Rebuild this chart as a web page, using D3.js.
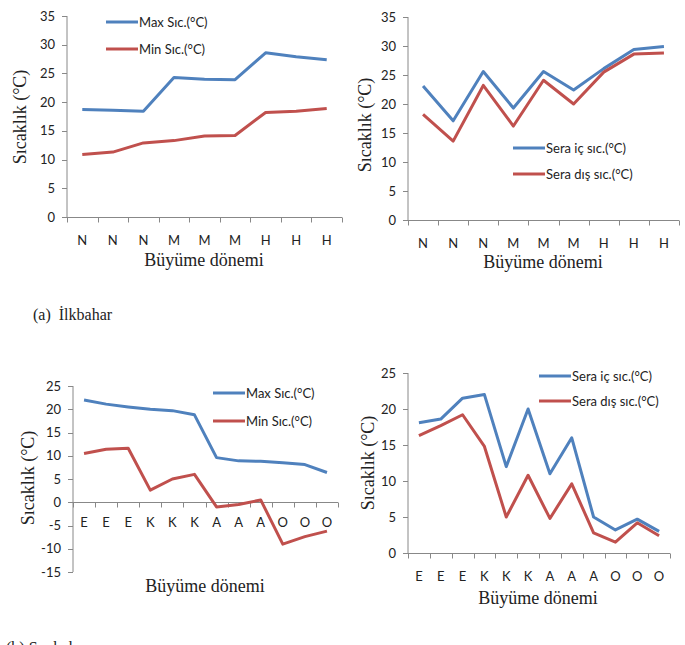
<!doctype html>
<html lang="tr">
  <head>
    <meta charset="utf-8">
    <title>Sıcaklık - Büyüme dönemi</title>
    <style>
      body{ margin: 0; background: #fff; }
      .tick-lbl{ font-family: Lato, "Open Sans", sans-serif; font-size: 13px; fill: #222; }
      .legend-lbl{ font-family: Lato, "Open Sans", sans-serif; font-size: 13px; fill: #222; }
      .title{ font-family: "Liberation Serif", "DejaVu Serif", serif; font-size: 18px; fill: #222; }
      .caption{ font-family: "Liberation Serif", "DejaVu Serif", serif; font-size: 16px; fill: #222; }
    </style>
  </head>
  <body>
    <svg id="fig" width="685" height="645"></svg>
    <script src="https://d3js.org/d3.v7.min.js"></script>
    <script>

      //spring categories and values
      var springCats = ["N","N","N","M","M","M","H","H","H"];
      var springMax = [18.7, 18.6, 18.4, 24.3, 24.0, 23.9, 28.6, 27.9, 27.4];
      var springMin = [10.9, 11.3, 12.9, 13.3, 14.1, 14.2, 18.2, 18.4, 18.9];
      var springIn = [23.1, 17.1, 25.6, 19.3, 25.6, 22.4, 26.1, 29.4, 29.9];
      var springOut = [18.2, 13.6, 23.2, 16.2, 24.1, 20.0, 25.5, 28.6, 28.8];

      //autumn categories and values
      var autumnCats = ["E","E","E","K","K","K","A","A","A","O","O","O"];
      var autumnMax = [22.0, 21.1, 20.5, 20.0, 19.7, 18.8, 9.6, 8.9, 8.8, 8.5, 8.1, 6.4];
      var autumnMin = [10.5, 11.4, 11.6, 2.6, 5.0, 6.0, -1.0, -0.5, 0.5, -9.0, -7.4, -6.2];
      var autumnIn = [18.1, 18.6, 21.5, 22.0, 12.0, 20.0, 11.0, 16.0, 5.0, 3.2, 4.7, 3.0];
      var autumnOut = [16.3, 17.7, 19.2, 14.8, 5.0, 10.8, 4.8, 9.6, 2.8, 1.5, 4.2, 2.4];

      var yTicksSpring = [0, 5, 10, 15, 20, 25, 30, 35];
      var yTicksAutumn = [-15, -10, -5, 0, 5, 10, 15, 20, 25];
      var yTicksAutumn2 = [0, 5, 10, 15, 20, 25];

      var blue = "#4f81bd";
      var red = "#c0504d";
      var axisColor = "#888";

      var svg = d3.select("#fig");

      var drawChart = function(c){
        var g = svg.append("g");

        var x = d3.scaleBand()
          .domain(d3.range(c.cats.length))
          .range([c.left, c.right]);

        var y = d3.scaleLinear()
          .domain(c.yDomain)
          .range([c.bottom, c.top]);

        //y axis line + ticks
        g.append("line")
          .attr("x1", c.left).attr("x2", c.left)
          .attr("y1", y(c.yDomain[0])).attr("y2", y(c.yDomain[1]))
          .attr("stroke", axisColor);

        g.selectAll(".ytick").data(c.yTicks).enter()
          .append("line")
          .attr("x1", c.left - 5).attr("x2", c.left)
          .attr("y1", function(d){ return Math.round(y(d)) + 0.5; })
          .attr("y2", function(d){ return Math.round(y(d)) + 0.5; })
          .attr("stroke", axisColor);

        g.selectAll(".ylbl").data(c.yTicks).enter()
          .append("text")
          .attr("class", "tick-lbl")
          .attr("x", c.left - 12)
          .attr("y", function(d){ return y(d); })
          .attr("dy", "0.35em")
          .attr("text-anchor", "end")
          .text(function(d){ return d; });

        //x axis at zero
        var y0 = Math.round(y(0)) + 0.5;
        g.append("line")
          .attr("x1", c.left).attr("x2", c.right)
          .attr("y1", y0).attr("y2", y0)
          .attr("stroke", axisColor);

        var bounds = d3.range(c.cats.length + 1).map(function(i){
          return i < c.cats.length ? x(i) : c.right;
        });
        g.selectAll(".xtick").data(bounds).enter()
          .append("line")
          .attr("x1", function(d){ return Math.round(d) + 0.5; })
          .attr("x2", function(d){ return Math.round(d) + 0.5; })
          .attr("y1", y0).attr("y2", y0 + 5)
          .attr("stroke", axisColor);

        g.selectAll(".xlbl").data(c.cats).enter()
          .append("text")
          .attr("class", "tick-lbl")
          .attr("x", function(d, i){ return x(i) + x.bandwidth() / 2; })
          .attr("y", c.xLabelY)
          .attr("text-anchor", "middle")
          .text(function(d){ return d; });

        //lines
        var line = d3.line()
          .x(function(d, i){ return x(i) + x.bandwidth() / 2; })
          .y(function(d){ return y(d); });

        c.series.forEach(function(s){
          g.append("path")
            .datum(s.values)
            .attr("fill", "none")
            .attr("stroke", s.color)
            .attr("stroke-width", 3)
            .attr("stroke-linejoin", "round")
            .attr("d", line);
        });

        //legend
        c.series.forEach(function(s, i){
          var ly = c.legendY + i * c.legendGap;
          g.append("line")
            .attr("x1", c.legendX).attr("x2", c.legendX + 32)
            .attr("y1", ly).attr("y2", ly)
            .attr("stroke", s.color)
            .attr("stroke-width", 3);
          g.append("text")
            .attr("class", "legend-lbl")
            .attr("x", c.legendX + 33)
            .attr("y", ly)
            .attr("dy", "0.35em")
            .text(s.name);
        });

        //axis titles
        g.append("text")
          .attr("class", "title")
          .attr("x", c.xTitleX)
          .attr("y", c.xTitleY)
          .attr("text-anchor", "middle")
          .text("Büyüme dönemi");

        g.append("text")
          .attr("class", "title")
          .attr("transform", "translate(" + c.yTitleX + "," + c.yTitleY + ") rotate(-90)")
          .attr("text-anchor", "middle")
          .text("Sıcaklık (°C)");
      };

      drawChart({
        cats: springCats, left: 67, right: 342, top: 16, bottom: 217,
        yDomain: [0, 35], yTicks: yTicksSpring, xLabelY: 245,
        series: [{name: "Max Sıc.(°C)", values: springMax, color: blue},
                 {name: "Min Sıc.(°C)", values: springMin, color: red}],
        legendX: 106, legendY: 22, legendGap: 27,
        xTitleX: 204, xTitleY: 266, yTitleX: 26, yTitleY: 117
      });

      drawChart({
        cats: springCats, left: 408, right: 679, top: 17, bottom: 220,
        yDomain: [0, 35], yTicks: yTicksSpring, xLabelY: 248,
        series: [{name: "Sera iç sıc.(°C)", values: springIn, color: blue},
                 {name: "Sera dış sıc.(°C)", values: springOut, color: red}],
        legendX: 513, legendY: 148, legendGap: 26,
        xTitleX: 543, xTitleY: 268, yTitleX: 371, yTitleY: 125
      });

      drawChart({
        cats: autumnCats, left: 73, right: 338, top: 386, bottom: 572,
        yDomain: [-15, 25], yTicks: yTicksAutumn, xLabelY: 527,
        series: [{name: "Max Sıc.(°C)", values: autumnMax, color: blue},
                 {name: "Min Sıc.(°C)", values: autumnMin, color: red}],
        legendX: 213, legendY: 393, legendGap: 28,
        xTitleX: 205, xTitleY: 592, yTitleX: 34, yTitleY: 478
      });

      drawChart({
        cats: autumnCats, left: 408, right: 670, top: 373, bottom: 553,
        yDomain: [0, 25], yTicks: yTicksAutumn2, xLabelY: 581,
        series: [{name: "Sera iç sıc.(°C)", values: autumnIn, color: blue},
                 {name: "Sera dış sıc.(°C)", values: autumnOut, color: red}],
        legendX: 539, legendY: 376, legendGap: 25,
        xTitleX: 538, xTitleY: 604, yTitleX: 374, yTitleY: 463
      });

      //captions
      var capA = svg.append("text").attr("class", "caption")
        .attr("x", 33).attr("y", 320);
      capA.append("tspan").text("(a)");
      capA.append("tspan").attr("dx", 8).text("İlkbahar");

      svg.append("text").attr("class", "caption")
        .attr("x", 6).attr("y", 653)
        .text("(b) Sonbahar");

    </script>
  </body>
</html>
